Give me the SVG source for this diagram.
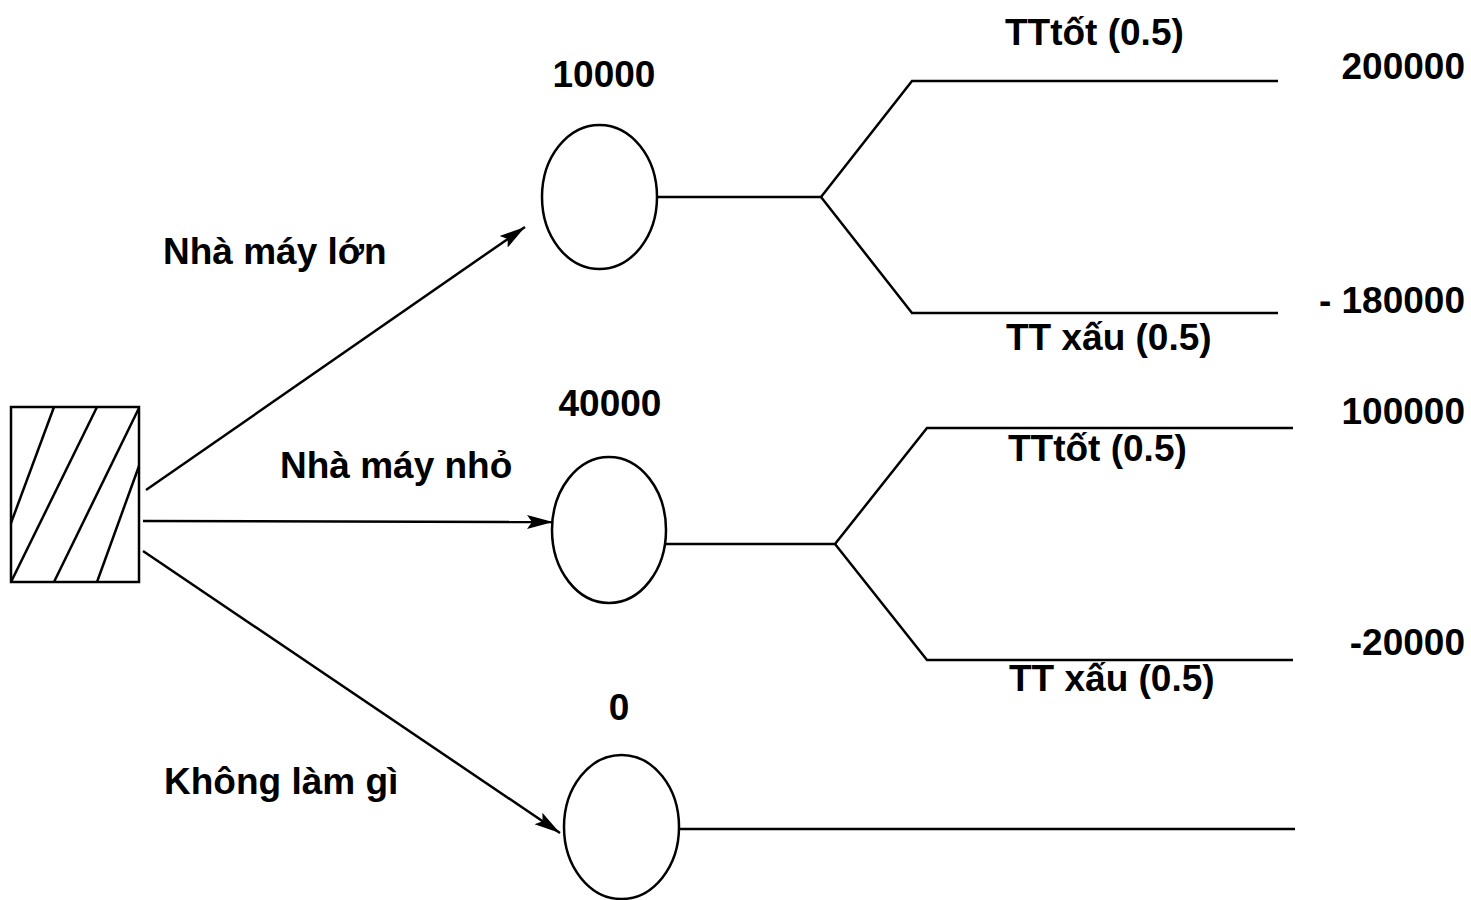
<svg xmlns="http://www.w3.org/2000/svg" width="1471" height="900" viewBox="0 0 1471 900">
<defs>
<style>
.ln{stroke:#000;stroke-width:2.5;fill:none}
.nd{stroke:#000;stroke-width:2.5;fill:#fff}
.t{font-family:"Liberation Sans",Arial,sans-serif;font-weight:bold;font-size:37px;fill:#000}
.e{text-anchor:end}
.m{text-anchor:middle}
</style>
<marker id="arr" markerUnits="userSpaceOnUse" markerWidth="28" markerHeight="16" refX="26" refY="8" orient="auto">
<path d="M0,1 L26,8 L0,15 L5,8 Z" fill="#000"/>
</marker>
</defs>
<rect width="1471" height="900" fill="#fff"/>

<g id="decision">
<rect x="11" y="407" width="128" height="175" class="nd"/>
<line x1="54" y1="407" x2="11" y2="523" class="ln"/>
<line x1="97" y1="407" x2="11" y2="582" class="ln"/>
<line x1="139" y1="408" x2="54" y2="582" class="ln"/>
<line x1="139" y1="466" x2="97" y2="582" class="ln"/>
</g>

<g id="connectors">
<line x1="146" y1="490" x2="525" y2="227" class="ln" marker-end="url(#arr)"/>
<line x1="143" y1="521" x2="553" y2="522" class="ln" marker-end="url(#arr)"/>
<line x1="143" y1="551" x2="560" y2="833" class="ln" marker-end="url(#arr)"/>
<polyline points="657,197 821,197 912,81 1278,81" class="ln"/>
<polyline points="821,197 912,313 1278,313" class="ln"/>
<polyline points="666,544 835,544 927,428 1293,428" class="ln"/>
<polyline points="835,544 927,660 1293,660" class="ln"/>
<line x1="679" y1="829" x2="1295" y2="829" class="ln"/>
</g>

<g id="chance-large">
<ellipse cx="599.5" cy="197" rx="57.5" ry="72" class="nd"/>
<text x="604" y="87" class="t m">10000</text>
</g>
<g id="chance-small">
<ellipse cx="609" cy="530" rx="57" ry="73" class="nd"/>
<text x="610" y="416" class="t m">40000</text>
</g>
<g id="chance-none">
<ellipse cx="621.5" cy="827" rx="57.5" ry="72" class="nd"/>
<text x="619" y="720" class="t m">0</text>
</g>

<g id="labels">
<text x="163" y="264" class="t">Nhà máy lớn</text>
<text x="280" y="478" class="t">Nhà máy nhỏ</text>
<text x="164" y="794" class="t">Không làm gì</text>
<text x="1005" y="45" class="t">TTtốt (0.5)</text>
<text x="1006" y="350" class="t">TT xấu (0.5)</text>
<text x="1008" y="461" class="t">TTtốt (0.5)</text>
<text x="1009" y="691" class="t">TT xấu (0.5)</text>
<text x="1465" y="79" class="t e">200000</text>
<text x="1465" y="313" class="t e">- 180000</text>
<text x="1465" y="424" class="t e">100000</text>
<text x="1465" y="655" class="t e">-20000</text>
</g>
</svg>
